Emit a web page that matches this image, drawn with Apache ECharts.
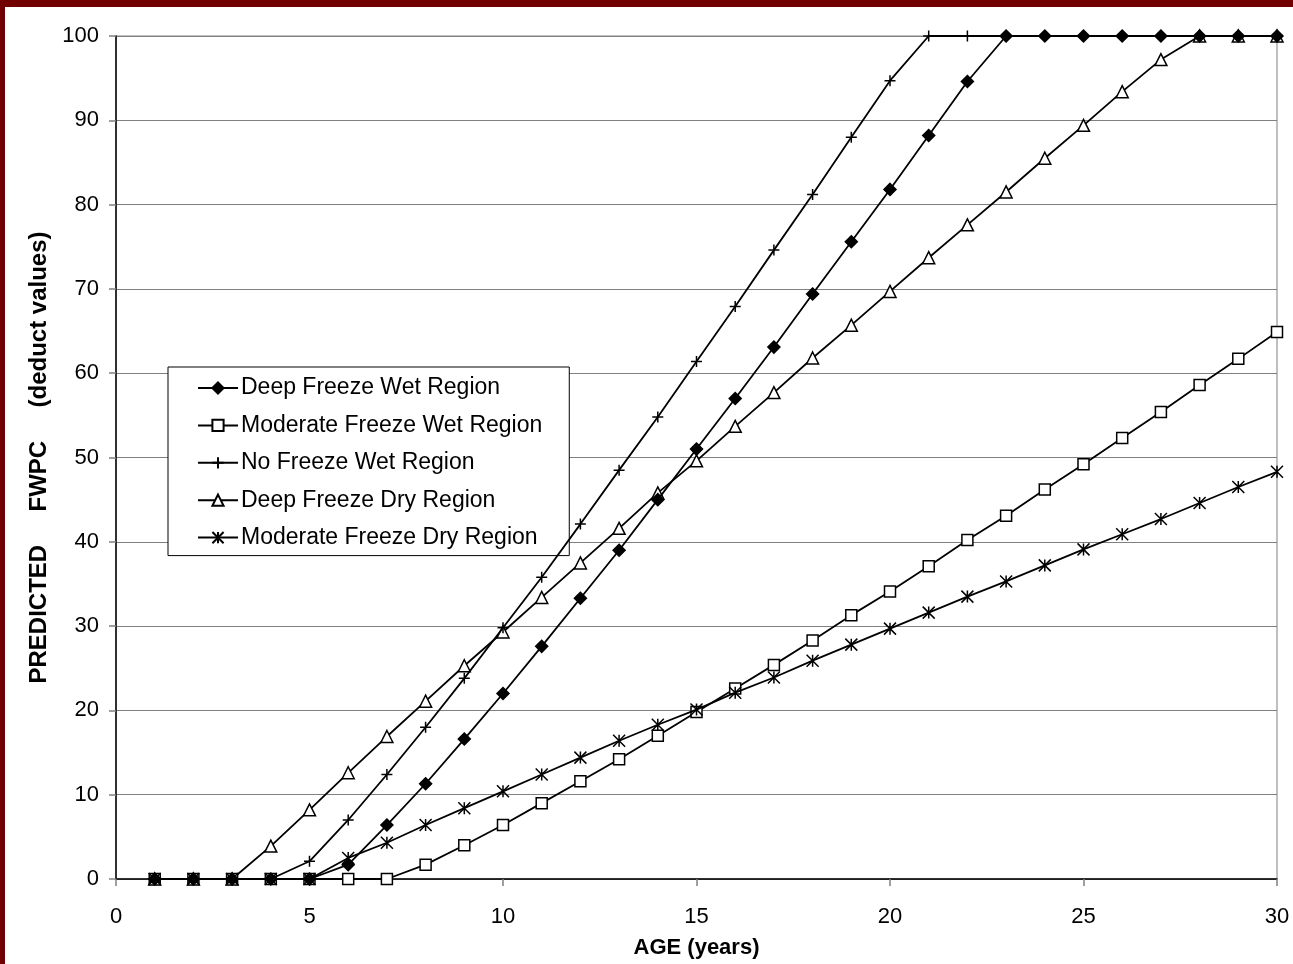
<!DOCTYPE html>
<html>
<head>
<meta charset="utf-8">
<title>Predicted FWPC by Age</title>
<script src="https://cdn.jsdelivr.net/npm/echarts@6/dist/echarts.min.js"></script>
<style>
  html, body { margin: 0; padding: 0; background: #fff; }
  #chart { position: absolute; left: 0; top: 0; width: 1293px; height: 964px; }
  .edge { position: absolute; background: #730000; z-index: 5; }
  #edgeTop { left: 0; top: 0; width: 1293px; height: 7px; }
  #edgeLeft { left: 0; top: 0; width: 5px; height: 964px; }
</style>
</head>
<body>
<div id="chart"></div>
<div class="edge" id="edgeTop"></div>
<div class="edge" id="edgeLeft"></div>
<script>
// Age in years (x values)
const ages = [1,2,3,4,5,6,7,8,9,10,11,12,13,14,15,16,17,18,19,20,21,22,23,24,25,26,27,28,29,30];

// Predicted FWPC deduct values per region
const deepFreezeWet = [0,0,0,0,0,1.7,6.4,11.3,16.6,22.0,27.6,33.3,39.0,45.0,51.0,57.0,63.1,69.4,75.6,81.8,88.2,94.6,100,100,100,100,100,100,100,100];
const moderateFreezeWet = [0,0,0,0,0,0,0,1.7,4.0,6.4,9.0,11.6,14.2,17.0,19.8,22.6,25.4,28.3,31.3,34.1,37.1,40.2,43.1,46.2,49.2,52.3,55.4,58.6,61.7,64.9];
const noFreezeWet = [0,0,0,0,2.1,7.0,12.4,18.0,23.8,29.8,35.8,42.1,48.5,54.8,61.4,67.9,74.6,81.2,88.0,94.7,100,100,100,100,100,100,100,100,100,100];
const deepFreezeDry = [0,0,0,3.9,8.2,12.6,16.9,21.1,25.3,29.3,33.4,37.5,41.6,45.8,49.6,53.7,57.7,61.8,65.7,69.7,73.7,77.6,81.5,85.5,89.4,93.4,97.2,100,100,100];
const moderateFreezeDry = [0,0,0,0,0,2.5,4.3,6.4,8.4,10.4,12.4,14.4,16.4,18.3,20.1,22.1,23.9,25.9,27.8,29.7,31.6,33.5,35.3,37.2,39.1,40.9,42.7,44.6,46.5,48.3];

const seriesNames = [
  'Deep Freeze Wet Region',
  'Moderate Freeze Wet Region',
  'No Freeze Wet Region',
  'Deep Freeze Dry Region',
  'Moderate Freeze Dry Region'
];

const xTitle = 'AGE (years)';
const yTitle = 'PREDICTED     FWPC     (deduct values)';

const FONT = '"Liberation Sans", Arial, sans-serif';

// Marker shapes
const plusPath = 'path://M0,5L10,5M5,0L5,10';
const starPath = 'path://M0,0L10,10M10,0L0,10M5,0L5,10';

function pairs(values) {
  return ages.map((a, i) => [a, values[i]]);
}

function makeSeries(name, values, symbol, size, fill, z) {
  return {
    name: name,
    type: 'line',
    data: pairs(values),
    symbol: symbol,
    symbolSize: size,
    showSymbol: true,
    z: z,
    color: '#000',
    lineStyle: { color: '#000', width: 1.8 },
    itemStyle: { color: fill, borderColor: '#000', borderWidth: 1.5 },
    emphasis: { disabled: true }
  };
}

const chart = echarts.init(document.getElementById('chart'), null, { renderer: 'canvas' });

chart.setOption({
  animation: false,
  backgroundColor: '#fff',
  textStyle: { fontFamily: FONT, color: '#000' },
  grid: {
    left: 116, right: 16, top: 36, bottom: 84,
    show: true, borderColor: '#808080', borderWidth: 1, backgroundColor: 'transparent'
  },
  xAxis: {
    type: 'value',
    min: 0, max: 30, interval: 5,
    name: xTitle,
    nameLocation: 'middle',
    nameGap: 58,
    nameTextStyle: { fontFamily: FONT, fontSize: 22, fontWeight: 'bold', color: '#000' },
    axisLine: { show: true, onZero: false, lineStyle: { color: '#000', width: 1.5 } },
    axisTick: { show: true, length: 7, lineStyle: { color: '#808080', width: 1.5 } },
    axisLabel: { fontFamily: FONT, fontSize: 22, color: '#000', margin: 27 },
    splitLine: { show: false }
  },
  yAxis: {
    type: 'value',
    min: 0, max: 100, interval: 10,
    name: yTitle,
    nameLocation: 'middle',
    nameRotate: 90,
    nameGap: 65,
    nameTextStyle: { fontFamily: FONT, fontSize: 24, fontWeight: 'bold', color: '#000' },
    axisLine: { show: true, lineStyle: { color: '#000', width: 1.5 } },
    axisTick: { show: true, length: 7, lineStyle: { color: '#808080', width: 1.5 } },
    axisLabel: { fontFamily: FONT, fontSize: 22, color: '#000', margin: 17 },
    splitLine: { show: true, lineStyle: { color: '#808080', width: 1.2 } }
  },
  legend: {
    data: seriesNames,
    orient: 'vertical',
    left: 168,
    top: 367,
    padding: [9, 27, 6, 29],
    itemWidth: 40,
    itemHeight: 14,
    itemGap: 13.4,
    backgroundColor: '#fff',
    borderColor: '#000',
    borderWidth: 1,
    borderRadius: 0,
    selectedMode: false,
    textStyle: { fontFamily: FONT, fontSize: 23, color: '#000', lineHeight: 24, padding: [0, 0, 0, -2] }
  },
  series: [
    makeSeries(seriesNames[0], deepFreezeWet, 'diamond', 12, '#000', 6),
    makeSeries(seriesNames[1], moderateFreezeWet, 'rect', 11, '#fff', 3),
    makeSeries(seriesNames[2], noFreezeWet, plusPath, 11, 'none', 4),
    makeSeries(seriesNames[3], deepFreezeDry, 'triangle', 12, '#fff', 3),
    makeSeries(seriesNames[4], moderateFreezeDry, starPath, 12, 'none', 5)
  ]
});
</script>
</body>
</html>
